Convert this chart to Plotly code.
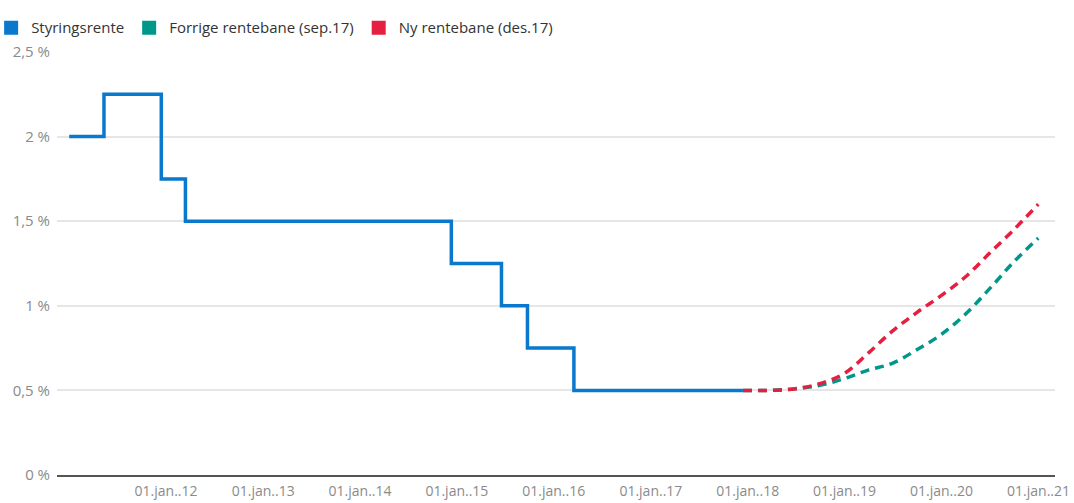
import plotly.graph_objects as go

# policy rate (Styringsrente), step changes
rate_dates = ["2011-01-01", "2011-05-12", "2011-12-14", "2012-03-14", "2014-12-11",
              "2015-06-18", "2015-09-24", "2016-03-17", "2017-12-14"]
rate_vals = [2.0, 2.25, 1.75, 1.5, 1.25, 1.0, 0.75, 0.5, 0.5]

# rate paths, quarterly
path_dates = ["2017-12-14", "2018-03-31", "2018-06-30", "2018-09-30", "2018-12-31",
              "2019-03-31", "2019-06-30", "2019-09-30", "2019-12-31",
              "2020-03-31", "2020-06-30", "2020-09-30", "2020-12-31"]
old_path = [0.50, 0.50, 0.51, 0.53, 0.57, 0.62, 0.66, 0.74, 0.83, 0.95, 1.10, 1.26, 1.40]
new_path = [0.50, 0.50, 0.51, 0.54, 0.60, 0.72, 0.85, 0.96, 1.06, 1.17, 1.31, 1.45, 1.60]

tick_years = list(range(2012, 2022))
y_ticks = [0, 0.5, 1, 1.5, 2, 2.5]
y_labels = ["0 %", "0,5 %", "1 %", "1,5 %", "2 %", "2,5 %"]

BLUE = "#0a78cc"
TEAL = "#00978b"
RED = "#e41f3f"

fig = go.Figure()
fig.add_trace(go.Scatter(x=path_dates, y=old_path, mode="lines", line_shape="spline",
                         line=dict(color=TEAL, width=3.5, dash="9px,6px"), showlegend=False))
fig.add_trace(go.Scatter(x=path_dates, y=new_path, mode="lines", line_shape="spline",
                         line=dict(color=RED, width=3.5, dash="9px,6px"), showlegend=False))
fig.add_trace(go.Scatter(x=rate_dates, y=rate_vals, mode="lines", line_shape="hv",
                         line=dict(color=BLUE, width=3.5), showlegend=False))

# legend entries as squares
for name, col in [("Styringsrente", BLUE), ("Forrige rentebane (sep.17)", TEAL),
                  ("Ny rentebane (des.17)", RED)]:
    fig.add_trace(go.Scatter(x=[None], y=[None], mode="markers", name=name,
                             marker=dict(symbol="square", size=14, color=col)))

fig.update_layout(
    width=1074, height=503,
    margin=dict(l=57, r=19, t=52, b=28, autoexpand=False),
    plot_bgcolor="white", paper_bgcolor="white",
    font=dict(family="Open Sans", color="#333333"),
    legend=dict(orientation="h", x=-0.066, xanchor="left", y=1.057, yanchor="middle",
                font=dict(size=15, color="#333333"), itemwidth=30, tracegroupgap=0),
    xaxis=dict(range=["2010-11-16", "2021-03-04"], automargin=False,
               tickvals=[f"{y}-01-01" for y in tick_years],
               ticktext=[f"01.jan..{y % 100:02d}" for y in tick_years],
               showgrid=False, zeroline=False, showline=True, linecolor="#555555", linewidth=2,
               ticks="", tickfont=dict(size=14, color="#8a8a8a"), ticklabelstandoff=2),
    yaxis=dict(range=[0, 2.5], tickvals=y_ticks, ticktext=y_labels, automargin=False,
               showgrid=True, gridcolor="#e6e6e6", gridwidth=1.5, zeroline=False,
               ticks="", tickfont=dict(size=15, color="#8a8a8a"), ticklabelstandoff=6),
)

# the page body has a default 8px margin; drop it so the figure sits at 0,0
fig.write_html("out.html", config={"displayModeBar": False},
               post_script="document.body.style.margin='0';")
